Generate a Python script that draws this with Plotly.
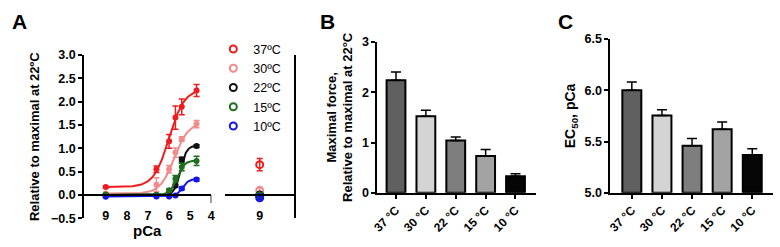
import numpy as np
import plotly.graph_objects as go

FONT = "Arial, Liberation Sans, sans-serif"

# ---------------- Panel A data ----------------
temps_a = ["37ºC", "30ºC", "22ºC", "15ºC", "10ºC"]
colors_a = ["#ee1c1c", "#f28b8b", "#111111", "#1e6e1e", "#1414e6"]
pca = [9, 6.6, 6.0, 5.7, 5.4, 4.7]
force_37 = [0.17, 0.55, 1.15, 1.66, 1.89, 2.24]
force_30 = [0.03, 0.22, 0.55, 0.91, 1.20, 1.52]
force_22 = [0.00, 0.00, 0.03, 0.20, 0.76, 1.05]
force_15 = [0.01, 0.00, 0.10, 0.35, 0.60, 0.73]
force_10 = [-0.04, -0.03, -0.03, -0.01, 0.14, 0.33]
err_37 = [0.02, 0.07, 0.15, 0.25, 0.17, 0.13]
err_30 = [0.02, 0.15, 0.08, 0.10, 0.05, 0.08]
err_22 = [0.01, 0.01, 0.02, 0.03, 0.05, 0.03]
err_15 = [0.01, 0.01, 0.03, 0.07, 0.08, 0.10]
err_10 = [0.01, 0.01, 0.01, 0.01, 0.03, 0.03]
# Hill fit parameters (bottom, top, EC50, nH)
fit_bottom = [0.17, 0.03, 0.00, 0.00, -0.03]
fit_top = [2.27, 1.55, 1.06, 0.74, 0.34]
fit_ec50 = [6.00, 5.76, 5.46, 5.62, 5.37]
fit_nh = [1.2, 1.3, 3.0, 2.5, 3.0]
# second segment (pCa 9, open circles)
seg2_vals = [0.65, 0.10, 0.00, -0.02, -0.06]
seg2_err = [0.13, 0.05, 0.02, 0.02, 0.03]

# ---------------- Panel B / C data ----------------
bar_labels = ["37 °C", "30 °C", "22 °C", "15 °C", "10 °C"]
bar_colors = ["#606060", "#d4d4d4", "#7e7e7e", "#a3a3a3", "#050505"]
max_force = [2.24, 1.52, 1.04, 0.73, 0.33]
max_force_err = [0.16, 0.12, 0.07, 0.13, 0.05]
ec50 = [6.00, 5.755, 5.46, 5.62, 5.37]
ec50_err = [0.08, 0.055, 0.07, 0.07, 0.06]

W, H = 780, 247
def px(x):
    return x / W
def py(y):
    return 1 - y / H

fig = go.Figure()

forces = [force_37, force_30, force_22, force_15, force_10]
errs = [err_37, err_30, err_22, err_15, err_10]
for i in range(5):
    xs = np.linspace(9, 4.7, 200)
    ys = fit_bottom[i] + (fit_top[i] - fit_bottom[i]) / (1 + 10 ** (fit_nh[i] * (xs - fit_ec50[i])))
    fig.add_trace(go.Scatter(x=xs, y=ys, mode="lines", line=dict(color=colors_a[i], width=2),
                             showlegend=False, xaxis="x", yaxis="y", hoverinfo="skip"))
    fig.add_trace(go.Scatter(x=pca, y=forces[i], mode="markers",
                             marker=dict(color=colors_a[i], size=6, symbol="circle"),
                             error_y=dict(type="data", array=errs[i], color=colors_a[i], thickness=1.5, width=3),
                             showlegend=False, xaxis="x", yaxis="y"))

for i in range(5):
    fig.add_trace(go.Scatter(x=[9], y=[seg2_vals[i]], mode="markers", name=temps_a[i],
                             marker=dict(color=colors_a[i], size=7, symbol="circle-open",
                                         line=dict(color=colors_a[i], width=2)),
                             error_y=dict(type="data", array=[seg2_err[i]], color=colors_a[i], thickness=1.5, width=3),
                             showlegend=True, xaxis="x2", yaxis="y2"))

fig.add_trace(go.Bar(x=bar_labels, y=max_force, marker=dict(color=bar_colors, line=dict(color="black", width=2)),
                     width=0.63,
                     error_y=dict(type="data", symmetric=False, array=max_force_err, arrayminus=[0]*5,
                                  color="black", thickness=1.5, width=5),
                     showlegend=False, xaxis="x3", yaxis="y3"))
fig.add_trace(go.Bar(x=bar_labels, y=[v - 5 for v in ec50], base=5,
                     marker=dict(color=bar_colors, line=dict(color="black", width=2)),
                     width=0.63,
                     error_y=dict(type="data", symmetric=False, array=ec50_err, arrayminus=[0]*5,
                                  color="black", thickness=1.5, width=5),
                     showlegend=False, xaxis="x4", yaxis="y4"))

tickfont = dict(family=FONT, size=12.5, color="black", weight="bold")
titlefont = dict(family=FONT, size=13, color="black", weight="bold")
ax_common = dict(showline=True, linecolor="black", linewidth=1.5, showgrid=False, zeroline=False,
                 tickfont=tickfont, ticks="outside", ticklen=4, tickwidth=1.5, tickcolor="black")

ydomA = [py(224), py(51)]
y0pos = py(199)
fig.update_layout(
    width=W, height=H, margin=dict(l=0, r=0, t=0, b=0),
    paper_bgcolor="white", plot_bgcolor="white",
    font=dict(family=FONT, color="black"),
    xaxis=dict(ax_common, domain=[px(79), px(208)], range=[10.03, 4], anchor="free", position=y0pos,
               tickvals=[9, 8, 7, 6, 5, 4], ticks="", ticklabelstandoff=10),
    yaxis=dict(ax_common, domain=ydomA, range=[-0.5, 3.0], anchor="x",
               tickvals=[-0.5, 0, 0.5, 1, 1.5, 2, 2.5, 3], tickformat=".1f",
               title=dict(text="Relative to maximal at 22ºC", font=titlefont, standoff=8)),
    xaxis2=dict(ax_common, domain=[px(222), px(292)], range=[10.5, 7.5], anchor="free", position=y0pos,
                tickvals=[9], ticks="", ticklabelstandoff=10),
    yaxis2=dict(ax_common, domain=ydomA, range=[-0.5, 3.0], anchor="x2", side="right",
                ticks="", showticklabels=False),
    xaxis3=dict(ax_common, domain=[px(376), px(537)], range=[-0.63, 4.69], anchor="y3",
                tickangle=-45, type="category", tickfont=dict(tickfont, size=12)),
    yaxis3=dict(ax_common, domain=[py(197), py(37)], range=[0, 3], anchor="x3",
                tickvals=[0, 1, 2, 3],
                title=dict(text="Maximal force,<br>Relative to maximal at 22°C", font=titlefont, standoff=6)),
    xaxis4=dict(ax_common, domain=[px(612), px(777)], range=[-0.72, 4.69], anchor="y4",
                tickangle=-45, type="category", tickfont=dict(tickfont, size=12)),
    yaxis4=dict(ax_common, domain=[py(197), py(34)], range=[5, 6.5], anchor="x4",
                tickvals=[5, 5.5, 6, 6.5], tickformat=".1f",
                title=dict(text="EC<sub>50</sub>, pCa", font=dict(titlefont, size=14), standoff=6)),
    legend=dict(x=px(210), y=py(29), xanchor="left", yanchor="top", bgcolor="rgba(0,0,0,0)",
                font=dict(family=FONT, size=12.5, color="black"), tracegroupgap=0),
    bargap=0.37,
)

fig.add_shape(type="line", xref="x", yref="y", x0=4, x1=4, y0=0, y1=-0.17,
              line=dict(color="black", width=1.5))

fig.add_annotation(text="pCa", x=px(143), y=py(237), xref="paper", yref="paper", showarrow=False,
                   xanchor="center", yanchor="middle",
                   font=dict(family=FONT, size=15, color="black", weight="bold"))

for label, xp in [("A", 14), ("B", 326), ("C", 567)]:
    fig.add_annotation(text=label, x=px(xp), y=py(15), xref="paper", yref="paper",
                       xanchor="center", yanchor="middle",
                       showarrow=False, font=dict(family=FONT, size=21, color="black", weight="bold"))

fig.write_html("out.html")
